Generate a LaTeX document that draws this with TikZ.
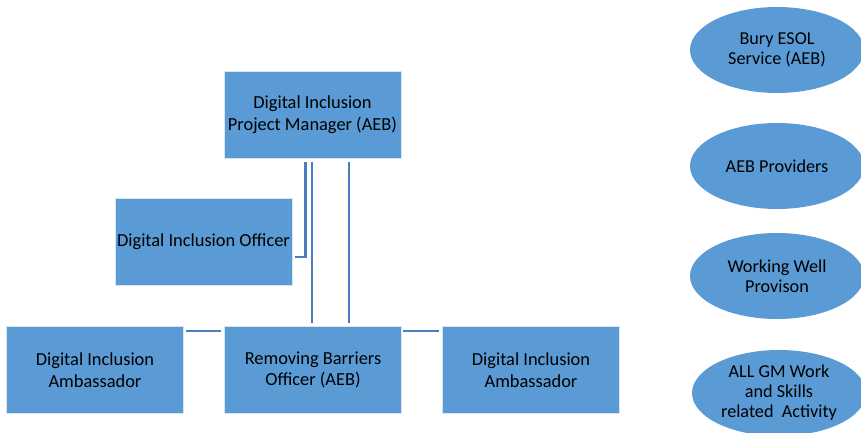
\documentclass[tikz,border=0pt]{standalone}
\usepackage{fontspec}
\setmainfont{Carlito}
\usetikzlibrary{shapes.geometric}
\definecolor{boxblue}{HTML}{5B9BD5}
\definecolor{linkblue}{HTML}{4A7EBB}
\tikzset{
  x=1pt, y=-1pt,
  boxnode/.style={draw=white!75!boxblue, line width=0.6pt, fill=boxblue, minimum width=177pt, minimum height=87pt, inner sep=0pt, align=center, font=\fontsize{18.4}{21.7}\selectfont, text=black},
  ovalnode/.style={ellipse, fill=boxblue, minimum width=174pt, minimum height=86pt, inner sep=0pt, align=center, font=\fontsize{18.2}{20}\selectfont, text=black},
  link/.style={draw=linkblue, line width=2.5pt}
}
\begin{document}
\begin{tikzpicture}
\useasboundingbox (0,0) rectangle (861,433);
\node[boxnode] (pm) at (312.5,115) {Digital Inclusion\\Project Manager (AEB)};
\node[boxnode] (dio) at (203.5,242) {Digital Inclusion Officer};
\node[boxnode] (amb1) at (95,370) {Digital Inclusion\\Ambassador};
\node[boxnode] (rbo) at (313,370) {Removing Barriers\\Officer (AEB)};
\node[boxnode] (amb2) at (531,370) {Digital Inclusion\\Ambassador};
\node[ovalnode] (e1) at (777,50) {Bury ESOL\\Service (AEB)};
\node[ovalnode] (e2) at (777,166) {AEB Providers};
\node[ovalnode] (e3) at (777,276) {Working Well\\Provison};
\node[ovalnode] (e4) at (779,393) {ALL GM Work\\and Skills\\related\ \ Activity};
\coordinate (a1) at (305.7,162);
\coordinate (a2) at (305.7,257);
\coordinate (a3) at (295,257);
\draw[link] (a1) -- (a2) -- (a3);
\draw[link] (312,162) -- (312,323);
\draw[link] (349,162) -- (349,323);
\draw[link] (186,331) -- (221,331);
\draw[link] (403,331) -- (439,331);
\end{tikzpicture}
\end{document}
